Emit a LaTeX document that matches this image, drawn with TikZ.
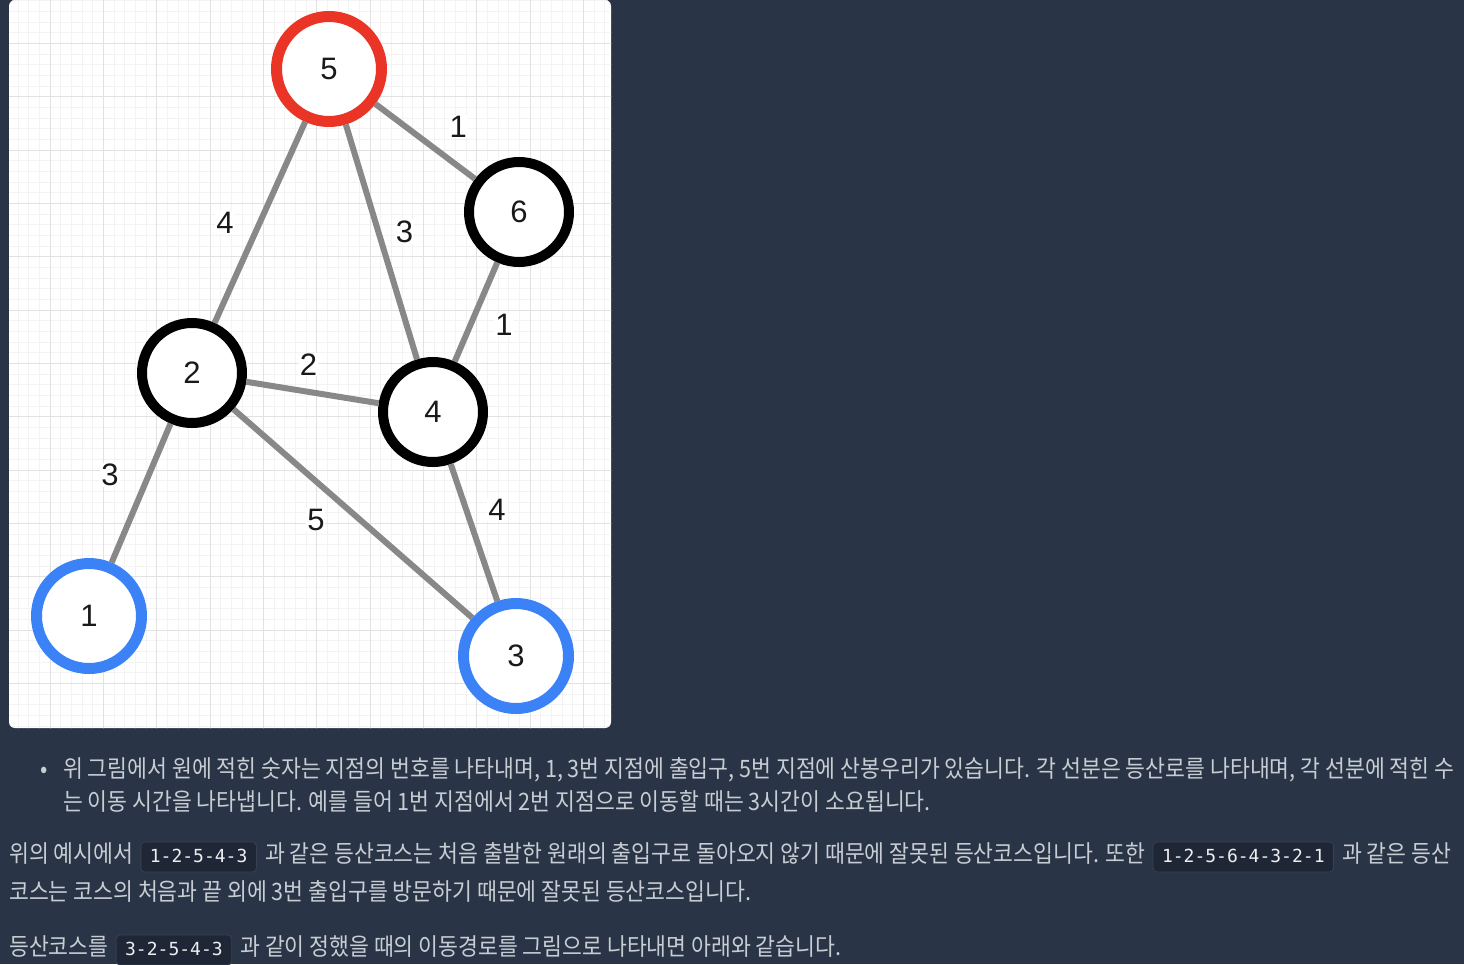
\documentclass[tikz,border=0pt]{standalone}
\usepackage{fontspec}
\setmainfont{Liberation Sans}
\newfontfamily\kr[FakeStretch=0.9]{Noto Sans CJK KR}
\newfontfamily\mono{DejaVu Sans Mono}
\usepackage{tikz}
\usetikzlibrary{positioning}

\definecolor{latar}{RGB}{41,52,70}
\definecolor{tekskr}{RGB}{200,205,212}
\definecolor{kodebg}{RGB}{31,39,54}
\definecolor{kodegaris}{RGB}{55,65,82}
\definecolor{kodeteks}{RGB}{236,238,241}
\definecolor{gridkecil}{RGB}{243,243,243}
\definecolor{gridbesar}{RGB}{226,226,226}
\definecolor{jalurabu}{RGB}{136,136,136}
\definecolor{merah}{RGB}{233,52,38}
\definecolor{biru}{RGB}{58,130,246}

\begin{document}
\begin{tikzpicture}[
		x=1pt, y=-1pt,
		titik/.style={draw=black, circle, fill=white, line width=10pt, minimum size=100pt, inner sep=0pt, font=\fontsize{31}{31}\selectfont, text=black!90},
		titikmerah/.style={titik, draw=merah, line width=11pt, minimum size=105pt},
		titikbiru/.style={titik, draw=biru, line width=11pt, minimum size=105pt},
		jalur/.style={draw=jalurabu, line width=6pt},
		bobot/.style={fill=white, inner sep=1pt, font=\fontsize{31}{31}\selectfont, text=black!90},
		teks/.style={anchor=base west, inner sep=0pt, font=\kr\fontsize{24}{28}\selectfont, text=tekskr},
		kode/.style={anchor=base west, draw=kodegaris, fill=kodebg, rounded corners=4pt, line width=0.8pt, inner xsep=9pt, inner ysep=7pt, text height=13pt, text depth=3pt, font=\mono\fontsize{18}{18}\selectfont, text=kodeteks}
	]
	% Latar dan kanvas
	\fill[latar] (0,0) rectangle (1464,964);
	\useasboundingbox (0,0) rectangle (1464,964);
	\fill[white, rounded corners=6pt] (9,0) rectangle (611,728);
	\begin{scope}
		\clip[rounded corners=6pt] (9,0) rectangle (611,728);
		\begin{scope}[shift={(-3.333,-10)}]
			\draw[gridkecil, line width=0.8pt, step=10.6667pt] (0,-20) grid (640,760);
			\draw[gridbesar, line width=1pt, step=53.3333pt] (0,-20) grid (640,760);
		\end{scope}
	\end{scope}

	% Titik-titik
	\node[titikmerah] (t5) at (329,69) {5};
	\node[titik] (t6) at (519,212) {6};
	\node[titik] (t2) at (192,373) {2};
	\node[titik] (t4) at (433,412) {4};
	\node[titikbiru] (t1) at (89,616) {1};
	\node[titikbiru] (t3) at (516,656) {3};

	% Jalur dan bobot
	\draw[jalur] (t5) -- node[bobot, shift={(33,-15)}] {1} (t6);
	\draw[jalur] (t5) -- node[bobot, shift={(-35,0)}] {4} (t2);
	\draw[jalur] (t5) -- node[bobot, shift={(23,-10)}] {3} (t4);
	\draw[jalur] (t6) -- node[bobot, shift={(28,13)}] {1} (t4);
	\draw[jalur] (t2) -- node[bobot, shift={(-4,-28)}] {2} (t4);
	\draw[jalur] (t2) -- node[bobot, shift={(-31,-18)}] {3} (t1);
	\draw[jalur] (t2) -- node[bobot, shift={(-37,6)}] {5} (t3);
	\draw[jalur] (t4) -- node[bobot, shift={(23,-23)}] {4} (t3);

	% Keterangan
	\node[teks] (poin) at (40,777) {•};
	\node[teks] (b1) at (63,777) {위 그림에서 원에 적힌 숫자는 지점의 번호를 나타내며, 1, 3번 지점에 출입구, 5번 지점에 산봉우리가 있습니다. 각 선분은 등산로를 나타내며, 각 선분에 적힌 수};
	\node[teks] (b2) at (63,810) {는 이동 시간을 나타냅니다. 예를 들어 1번 지점에서 2번 지점으로 이동할 때는 3시간이 소요됩니다.};

	\node[teks] (b3a) at (9,862) {위의 예시에서};
	\node[kode] (k1) at ([xshift=7pt]b3a.base east) {1-2-5-4-3};
	\node[teks] (b3b) at ([xshift=8pt]k1.base east) {과 같은 등산코스는 처음 출발한 원래의 출입구로 돌아오지 않기 때문에 잘못된 등산코스입니다. 또한};
	\node[kode] (k2) at ([xshift=7pt]b3b.base east) {1-2-5-6-4-3-2-1};
	\node[teks] (b3c) at ([xshift=8pt]k2.base east) {과 같은 등산};
	\node[teks] (b4) at (9,900) {코스는 코스의 처음과 끝 외에 3번 출입구를 방문하기 때문에 잘못된 등산코스입니다.};

	\node[teks] (b5a) at (9,955) {등산코스를};
	\node[kode] (k3) at ([xshift=7pt]b5a.base east) {3-2-5-4-3};
	\node[teks] (b5b) at ([xshift=8pt]k3.base east) {과 같이 정했을 때의 이동경로를 그림으로 나타내면 아래와 같습니다.};
\end{tikzpicture}
\end{document}
